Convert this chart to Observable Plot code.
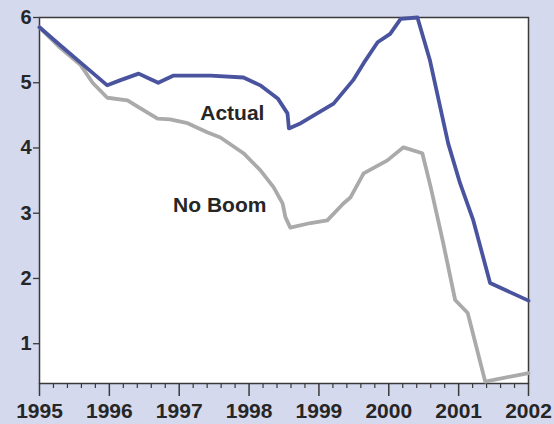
<!DOCTYPE html>
<html>
<head>
<meta charset="utf-8">
<script src="https://cdn.jsdelivr.net/npm/d3@7"></script>
<script src="https://cdn.jsdelivr.net/npm/@observablehq/plot@0.6"></script>
<style>
  html, body { margin: 0; padding: 0; background: #d4d9ee; }
  #chart { width: 554px; height: 424px; }
</style>
</head>
<body>
<div id="chart"></div>
<script>
const actualYears = [1995.0, 1995.30, 1995.63, 1995.97, 1996.16, 1996.42, 1996.56, 1996.70, 1996.92, 1997.45, 1997.92, 1998.16, 1998.41, 1998.55, 1998.57, 1998.74, 1999.21, 1999.49, 1999.64, 1999.84, 2000.02, 2000.17, 2000.41, 2000.59, 2000.85, 2001.02, 2001.21, 2001.45, 2002.0];
const actualValues = [5.85, 5.57, 5.27, 4.96, 5.04, 5.14, 5.07, 5.00, 5.11, 5.11, 5.08, 4.96, 4.76, 4.53, 4.30, 4.38, 4.68, 5.04, 5.30, 5.62, 5.75, 5.98, 6.0, 5.34, 4.07, 3.46, 2.89, 1.93, 1.66];

const noBoomYears = [1995.0, 1995.30, 1995.59, 1995.76, 1995.97, 1996.26, 1996.44, 1996.69, 1996.87, 1997.12, 1997.40, 1997.59, 1997.92, 1998.16, 1998.35, 1998.48, 1998.52, 1998.59, 1998.88, 1999.12, 1999.35, 1999.45, 1999.64, 1999.98, 2000.21, 2000.48, 2000.60, 2000.78, 2000.95, 2001.13, 2001.38, 2002.0];
const noBoomValues = [5.85, 5.53, 5.27, 5.00, 4.77, 4.73, 4.61, 4.45, 4.44, 4.38, 4.24, 4.16, 3.92, 3.66, 3.40, 3.15, 2.94, 2.78, 2.85, 2.89, 3.15, 3.24, 3.61, 3.81, 4.01, 3.92, 3.40, 2.54, 1.67, 1.47, 0.42, 0.55];

const seriesNames = ["Actual", "No Boom"];
const seriesColors = ["#4a549e", "#aaaaaa"];
const labelYears = [1997.76, 1997.58];
const labelValues = [4.53, 3.12];

const yearTicks = [1995, 1996, 1997, 1998, 1999, 2000, 2001, 2002];
const yTicks = [1, 2, 3, 4, 5, 6];

const actual = actualYears.map((x, i) => ({x, y: actualValues[i]}));
const noBoom = noBoomYears.map((x, i) => ({x, y: noBoomValues[i]}));
const labels = seriesNames.map((name, i) => ({name, x: labelYears[i], y: labelValues[i]}));
const minorTicks = d3.range(1995, 2002.001, 0.2).map(v => +v.toFixed(2)).filter(v => !yearTicks.includes(Math.round(v * 100) / 100));

const chart = Plot.plot({
  width: 554,
  height: 424,
  marginLeft: 39,
  marginRight: 26,
  marginTop: 17,
  marginBottom: 41,
  style: {background: "transparent", fontFamily: "'Liberation Sans', Arial, sans-serif", color: "#262626", overflow: "visible"},
  x: {domain: [1995, 2002]},
  y: {domain: [0.39, 6]},
  marks: [
    Plot.frame({fill: "white", stroke: "#3a3a3a", strokeWidth: 1.5}),
    Plot.axisX({ticks: minorTicks, tickSize: 5, stroke: "#3a3a3a", strokeWidth: 1.2, text: null, label: null}),
    Plot.axisX({ticks: yearTicks, tickSize: 13, tickPadding: 7, stroke: "#3a3a3a", strokeWidth: 1.5, tickFormat: d => String(d), fontSize: 21, fontWeight: "bold", fill: "#262626", label: null}),
    Plot.axisY({ticks: yTicks, tickSize: 6, tickPadding: 2, tickFormat: d => String(d), stroke: "#3a3a3a", strokeWidth: 1.3, fontSize: 20, fontWeight: "bold", fill: "#262626", label: null}),
    Plot.line(noBoom, {x: "x", y: "y", stroke: seriesColors[1], strokeWidth: 3.8, strokeLinejoin: "round", strokeLinecap: "round"}),
    Plot.line(actual, {x: "x", y: "y", stroke: seriesColors[0], strokeWidth: 3.8, strokeLinejoin: "round", strokeLinecap: "round"}),
    Plot.text(labels, {x: "x", y: "y", text: "name", fontSize: 21, fontWeight: "bold", fill: "#262626"})
  ]
});
document.getElementById("chart").appendChild(chart);
</script>
</body>
</html>
